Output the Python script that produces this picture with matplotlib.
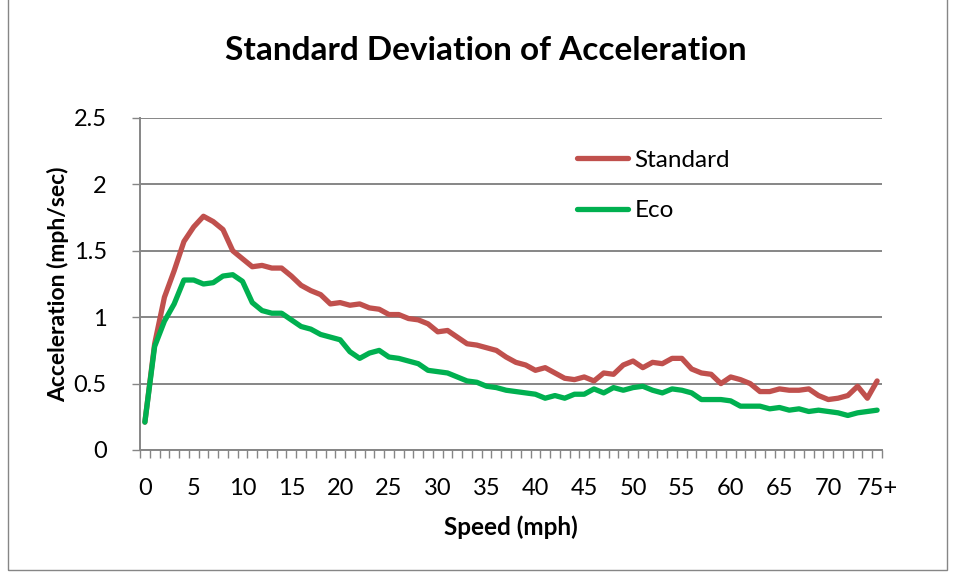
import matplotlib.pyplot as plt
import numpy as np
from matplotlib.patches import Rectangle

# categories 0..74 plus "75+"
speed_labels = [str(v) for v in range(0, 75)] + ["75+"]

standard = [
    0.21, 0.80, 1.15, 1.35, 1.57, 1.68, 1.76, 1.72, 1.66, 1.50,
    1.44, 1.38, 1.39, 1.37, 1.37, 1.31, 1.24, 1.20, 1.17, 1.10,
    1.11, 1.09, 1.10, 1.07, 1.06, 1.02, 1.02, 0.99, 0.98, 0.95,
    0.89, 0.90, 0.85, 0.80, 0.79, 0.77, 0.75, 0.70, 0.66, 0.64,
    0.60, 0.62, 0.58, 0.54, 0.53, 0.55, 0.52, 0.58, 0.57, 0.64,
    0.67, 0.62, 0.66, 0.65, 0.69, 0.69, 0.61, 0.58, 0.57, 0.50,
    0.55, 0.53, 0.50, 0.44, 0.44, 0.46, 0.45, 0.45, 0.46, 0.41,
    0.38, 0.39, 0.41, 0.48, 0.39, 0.52,
]
eco = [
    0.21, 0.78, 0.97, 1.10, 1.28, 1.28, 1.25, 1.26, 1.31, 1.32,
    1.27, 1.11, 1.05, 1.03, 1.03, 0.98, 0.93, 0.91, 0.87, 0.85,
    0.83, 0.74, 0.69, 0.73, 0.75, 0.70, 0.69, 0.67, 0.65, 0.60,
    0.59, 0.58, 0.55, 0.52, 0.51, 0.48, 0.47, 0.45, 0.44, 0.43,
    0.42, 0.39, 0.41, 0.39, 0.42, 0.42, 0.46, 0.43, 0.47, 0.45,
    0.47, 0.48, 0.45, 0.43, 0.46, 0.45, 0.43, 0.38, 0.38, 0.38,
    0.37, 0.33, 0.33, 0.33, 0.31, 0.32, 0.30, 0.31, 0.29, 0.30,
    0.29, 0.28, 0.26, 0.28, 0.29, 0.30,
]

C_STD = "#C0504D"
C_ECO = "#00B050"
C_AXIS = "#868686"

plt.rcParams.update({
    "font.family": ["Lato", "DejaVu Sans"],
    "font.size": 17,
})

fig = plt.figure(figsize=(9.56, 5.77), dpi=100)
fig.patches.append(Rectangle((8 / 956, 7 / 577), 939 / 956, 580 / 577,
                             transform=fig.transFigure, fill=False,
                             edgecolor=C_AXIS, linewidth=1.0))
ax = fig.add_axes([140 / 956, 127 / 577, 742 / 956, 332 / 577])

x = np.arange(len(speed_labels))
ax.plot(x, standard, color=C_STD, linewidth=3.8, label="Standard",
        solid_joinstyle="round", solid_capstyle="round", zorder=3)
ax.plot(x, eco, color=C_ECO, linewidth=3.8, label="Eco",
        solid_joinstyle="round", solid_capstyle="round", zorder=3)

ax.set_xlim(-0.5, len(speed_labels) - 0.5)
ax.set_ylim(0, 2.5)
ax.set_yticks(np.arange(0, 2.51, 0.5))
ax.set_yticklabels(["0", "0.5", "1", "1.5", "2", "2.5"])
ax.set_xticks(x[::5])
ax.set_xticklabels(speed_labels[::5])
ax.set_xticks(np.arange(-0.5, len(speed_labels), 1), minor=True)
ax.tick_params(axis="x", which="major", length=0, pad=20, labelsize=17)
ax.tick_params(axis="x", which="minor", length=6, width=1, color=C_AXIS)
ax.tick_params(axis="y", length=6, width=1, color=C_AXIS, pad=18, labelsize=17)

ax.grid(True, axis="y", color=C_AXIS, linewidth=1.4)
ax.set_axisbelow(True)
for side in ("top", "right"):
    ax.spines[side].set_visible(False)
for side in ("left", "bottom"):
    ax.spines[side].set_color(C_AXIS)
    ax.spines[side].set_linewidth(1.4)

ax.set_xlabel("Speed (mph)", fontweight="bold", fontsize=17.5, labelpad=12)
ax.set_ylabel("Acceleration (mph/sec)", fontweight="bold", fontsize=16.5, labelpad=3)
fig.text(486 / 956, 1 - 50 / 577, "Standard Deviation of Acceleration",
         ha="center", va="center", fontsize=24, fontweight="bold")

ax.legend(loc="upper left", bbox_to_anchor=(0.560, 0.97), frameon=False,
          handlelength=2.1, handletextpad=0.25, labelspacing=1.2, fontsize=17.5)

fig.savefig("out.png", dpi=100)
